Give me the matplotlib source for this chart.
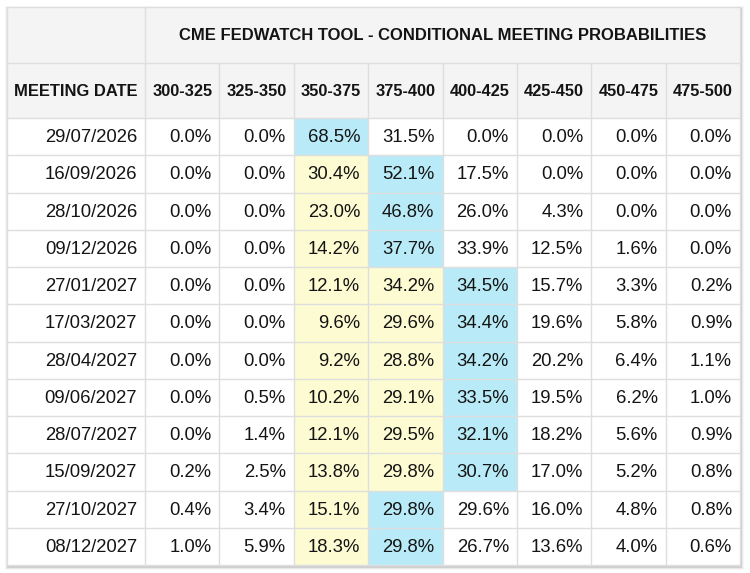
import matplotlib
matplotlib.use("Agg")
import matplotlib.pyplot as plt
from matplotlib.patches import Rectangle
import numpy as np

plt.rcParams['font.family'] = ['Liberation Sans', 'DejaVu Sans']

title = "CME FEDWATCH TOOL - CONDITIONAL MEETING PROBABILITIES"
first_header = "MEETING DATE"
ranges = ["300-325", "325-350", "350-375", "375-400", "400-425", "425-450", "450-475", "475-500"]
dates = ["29/07/2026", "16/09/2026", "28/10/2026", "09/12/2026", "27/01/2027", "17/03/2027",
         "28/04/2027", "09/06/2027", "28/07/2027", "15/09/2027", "27/10/2027", "08/12/2027"]
p300_325 = [0.0, 0.0, 0.0, 0.0, 0.0, 0.0, 0.0, 0.0, 0.0, 0.2, 0.4, 1.0]
p325_350 = [0.0, 0.0, 0.0, 0.0, 0.0, 0.0, 0.0, 0.5, 1.4, 2.5, 3.4, 5.9]
p350_375 = [68.5, 30.4, 23.0, 14.2, 12.1, 9.6, 9.2, 10.2, 12.1, 13.8, 15.1, 18.3]
p375_400 = [31.5, 52.1, 46.8, 37.7, 34.2, 29.6, 28.8, 29.1, 29.5, 29.8, 29.8, 29.8]
p400_425 = [0.0, 17.5, 26.0, 33.9, 34.5, 34.4, 34.2, 33.5, 32.1, 30.7, 29.6, 26.7]
p425_450 = [0.0, 0.0, 4.3, 12.5, 15.7, 19.6, 20.2, 19.5, 18.2, 17.0, 16.0, 13.6]
p450_475 = [0.0, 0.0, 0.0, 1.6, 3.3, 5.8, 6.4, 6.2, 5.6, 5.2, 4.8, 4.0]
p475_500 = [0.0, 0.0, 0.0, 0.0, 0.2, 0.9, 1.1, 1.0, 0.9, 0.8, 0.8, 0.6]
current_range = "350-375"

cols = [p300_325, p325_350, p350_375, p375_400, p400_425, p425_450, p450_475, p475_500]
vals = np.array(cols).T  # rows x cols

W, H = 750, 573
fig = plt.figure(figsize=(W / 100, H / 100), dpi=100)
ax = fig.add_axes([0, 0, 1, 1])
ax.set_xlim(0, W)
ax.set_ylim(H, 0)
ax.axis('off')

left, right, top, bottom = 7, 740, 7, 565
first_w = 138
title_h, head_h = 56, 55
ncol = len(ranges)
nrow = len(dates)
col_w = (right - left - first_w) / ncol
row_h = (bottom - top - title_h - head_h) / nrow

header_bg = '#f4f4f4'
grid_c = '#dedede'
blue = '#b8ebf7'
yellow = '#fcfbd2'
text_c = '#141414'

# shadow
for i, a in enumerate([0.10, 0.06, 0.03]):
    d = i + 1
    ax.add_patch(Rectangle((left - d + 1, top - d + 2), right - left + 2 * d, bottom - top + 2 * d,
                           facecolor='#000000', alpha=a, edgecolor='none', zorder=0))
ax.add_patch(Rectangle((left, top), right - left, bottom - top, facecolor='white',
                       edgecolor='none', zorder=1))

# header backgrounds
ax.add_patch(Rectangle((left, top), right - left, title_h + head_h, facecolor=header_bg,
                       edgecolor='none', zorder=1))

cur = ranges.index(current_range)
y0 = top + title_h + head_h
for r in range(nrow):
    mx = int(np.argmax(vals[r]))
    for c in range(ncol):
        x = left + first_w + c * col_w
        y = y0 + r * row_h
        fc = None
        if c == mx:
            fc = blue
        elif cur <= c < mx:
            fc = yellow
        if fc:
            ax.add_patch(Rectangle((x, y), col_w, row_h, facecolor=fc, edgecolor='none', zorder=1))
        ax.text(x + col_w - 8, y + row_h / 2 + 1, f"{vals[r, c]:.1f}%", ha='right', va='center',
                fontsize=13.3, color=text_c, zorder=3)
    ax.text(left + first_w - 8, y0 + r * row_h + row_h / 2 + 1, dates[r], ha='right', va='center',
            fontsize=13.3, color=text_c, zorder=3)

# grid lines
lw = 1.0
ys = [top, top + title_h, y0] + [y0 + r * row_h for r in range(1, nrow)] + [bottom]
for y in ys:
    ax.plot([left, right], [y, y], color=grid_c, lw=lw, zorder=2)
ax.plot([left, left], [top, bottom], color=grid_c, lw=lw, zorder=2)
ax.plot([right, right], [top, bottom], color=grid_c, lw=lw, zorder=2)
ax.plot([left + first_w] * 2, [top, bottom], color=grid_c, lw=lw, zorder=2)
for c in range(1, ncol):
    x = left + first_w + c * col_w
    ax.plot([x, x], [top + title_h, bottom], color=grid_c, lw=lw, zorder=2)

# header texts
ax.text(left + first_w + (right - left - first_w) / 2, top + title_h / 2 + 1, title,
        ha='center', va='center', fontsize=12.0, fontweight='bold', color=text_c, zorder=3)
ax.text(left + first_w / 2, top + title_h + head_h / 2 + 1, first_header,
        ha='center', va='center', fontsize=11.9, fontweight='bold', color=text_c, zorder=3)
for c, lab in enumerate(ranges):
    ax.text(left + first_w + c * col_w + col_w / 2, top + title_h + head_h / 2 + 1, lab,
            ha='center', va='center', fontsize=11.8, fontweight='bold', color=text_c, zorder=3)

fig.savefig("out.png", dpi=100, facecolor='white')
